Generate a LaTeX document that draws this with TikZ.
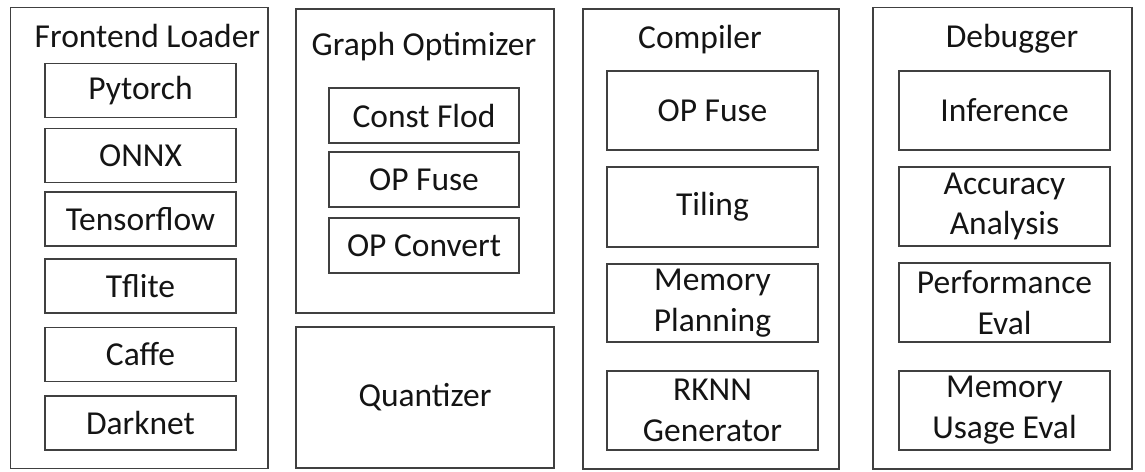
\documentclass[tikz,border=0pt]{standalone}
\usepackage{fontspec}
\setmainfont{Carlito}
\usetikzlibrary{positioning}
\definecolor{framegray}{HTML}{404040}
\definecolor{inkblack}{HTML}{141414}
\tikzset{
  module/.style={draw=framegray,line width=1.5pt,rectangle,inner sep=0pt,align=center,text=inkblack},
  stage/.style={draw=framegray,line width=1.5pt,rectangle,inner sep=0pt,align=center,text=inkblack},
  heading/.style={anchor=base,text=inkblack,inner sep=0pt},
  dims/.style 2 args={minimum width=#1pt,minimum height=#2pt}
}

\begin{document}
\begin{tikzpicture}[x=1pt,y=-1pt,font=\fontsize{33.5}{40.8}\selectfont]
\useasboundingbox (0,0) rectangle (1145,471);
\node[module,dims={257.3}{461}] (loader) at (139.35,238) {};
\node[heading] (loadertitle) at (147.5,47) {Frontend Loader};
\def\lx{140.5}
\node[stage,dims={191}{54}] (pytorch) at (\lx,90.5) {Pytorch};
\node[stage,dims={191}{54}] (onnx) at (\lx,155.5) {ONNX};
\node[stage,dims={191}{54}] (tensorflow) at (\lx,219) {Tensorflow};
\node[stage,dims={191}{54}] (tflite) at (\lx,286) {Tflite};
\node[stage,dims={191}{54}] (caffe) at (\lx,354.5) {Caffe};
\node[stage,dims={191}{54}] (darknet) at (\lx,423) {Darknet};
\node[module,dims={258}{304}] (optimizer) at (425,161) {};
\node[heading] (optimizertitle) at (424,55) {Graph Optimizer};
\def\gx{424}
\node[stage,dims={190}{55}] (constfold) at (\gx,115.5) {Const Flod};
\node[stage,dims={190}{55}] (graphfuse) at (\gx,179.5) {OP Fuse};
\node[stage,dims={190}{55}] (opconvert) at (\gx,245.5) {OP Convert};
\node[module,dims={258}{141}] (quantizer) at (425,397.5) {Quantizer};
\node[module,dims={256}{460}] (compiler) at (711,239) {};
\node[heading] (compilertitle) at (700,48) {Compiler};
\def\cx{712.5}
\node[stage,dims={211}{79}] (compfuse) at (\cx,110.5) {OP Fuse};
\node[stage,dims={211}{80}] (tiling) at (\cx,207) {Tiling};
\node[stage,dims={211}{78}] (memplan) at (\cx,303) {Memory\\Planning};
\node[stage,dims={211}{79}] (rknngen) at (\cx,410.5) {RKNN\\Generator};
\node[module,dims={259}{461.5}] (debugger) at (1002.5,238.25) {};
\node[heading] (debuggertitle) at (1012,47) {Debugger};
\def\dx{1004.5}
\node[stage,dims={211}{79}] (inference) at (\dx,110.5) {Inference};
\node[stage,dims={211}{79}] (accuracy) at (\dx,206.5) {Accuracy\\Analysis};
\node[stage,dims={211}{79}] (perfeval) at (\dx,302.5) {Performance\\Eval};
\node[stage,dims={211}{79}] (memeval) at (\dx,410.5) {Memory\\Usage Eval};
\end{tikzpicture}
\end{document}
